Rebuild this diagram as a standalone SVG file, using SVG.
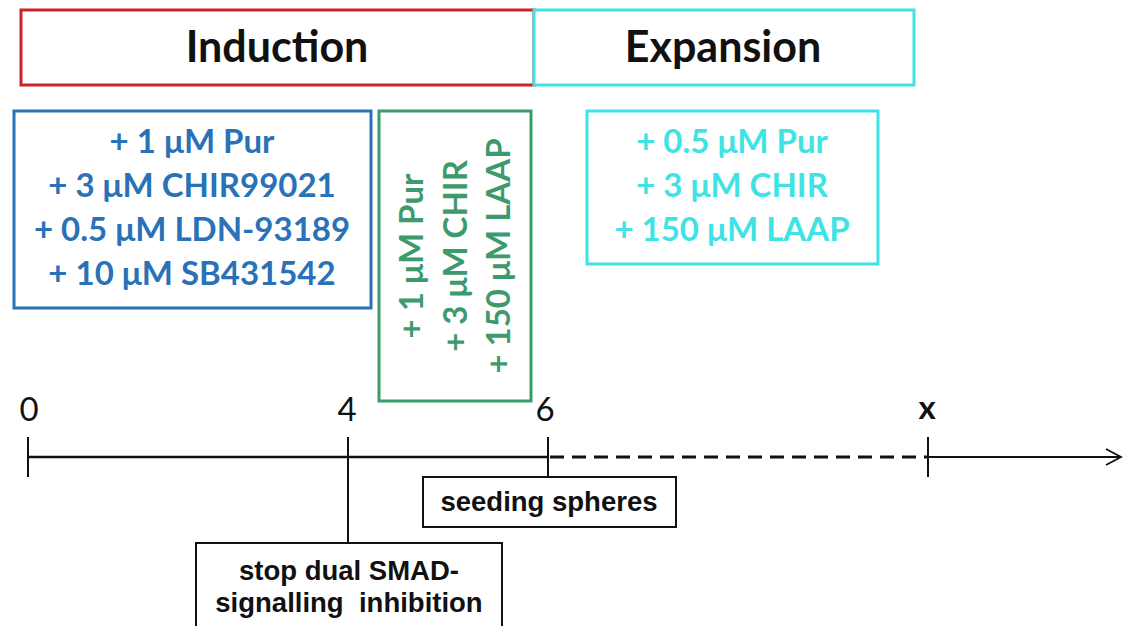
<svg xmlns="http://www.w3.org/2000/svg" width="1123" height="626" viewBox="0 0 1123 626">
  <style>
    .phase { fill: #ffffff; stroke-width: 3; }
    .title { font-family: Lato, "Open Sans", sans-serif; font-weight: bold; font-size: 43px; fill: #111111; text-anchor: middle; }
    .med { font-family: Lato, "Open Sans", sans-serif; font-weight: bold; font-size: 33px; text-anchor: middle; }
    .num { font-family: Lato, "Open Sans", sans-serif; font-size: 33px; fill: #111111; text-anchor: middle; }
    .note { font-family: "Liberation Sans", Arial, sans-serif; font-weight: bold; font-size: 27.5px; fill: #111111; text-anchor: middle; }
    .axis { stroke: #111111; stroke-width: 2.5; fill: none; }
    .dash { stroke: #111111; stroke-width: 3.2; stroke-dasharray: 14 8; fill: none; }
    .tail { stroke: #111111; stroke-width: 1.8; fill: none; }
    .tick { stroke: #111111; stroke-width: 2; fill: none; }
    .box { fill: #ffffff; stroke: #111111; stroke-width: 2; }
  </style>

  <rect width="1123" height="626" fill="#ffffff"/>

  <!-- phase headers -->
  <g id="induction">
    <rect class="phase" x="21" y="10" width="513" height="75" stroke="#c8232a"/>
    <text class="title" x="277" y="62">Induction</text>
  </g>
  <g id="expansion">
    <rect class="phase" x="534" y="10" width="380" height="75" stroke="#3fe3e6"/>
    <text class="title" x="723" y="62">Expansion</text>
  </g>

  <!-- media compositions -->
  <g id="media-induction">
    <rect x="14" y="111" width="357" height="197" fill="none" stroke="#2a72b8" stroke-width="3"/>
    <g class="med" fill="#2a72b8">
      <text x="192" y="153">+ 1 μM Pur</text>
      <text x="192" y="197">+ 3 μM CHIR99021</text>
      <text x="192" y="241">+ 0.5 μM LDN-93189</text>
      <text x="192" y="285">+ 10 μM SB431542</text>
    </g>
  </g>
  <g id="media-transition">
    <rect x="379" y="111" width="152" height="290" fill="none" stroke="#3d9a6c" stroke-width="3"/>
    <g class="med" fill="#3d9a6c">
      <text transform="translate(423 256) rotate(-90)">+ 1 μM Pur</text>
      <text transform="translate(467 256) rotate(-90)">+ 3 μM CHIR</text>
      <text transform="translate(510 256) rotate(-90)">+ 150 μM LAAP</text>
    </g>
  </g>
  <g id="media-expansion">
    <rect x="587" y="111" width="291" height="153" fill="none" stroke="#3fe3e6" stroke-width="3"/>
    <g class="med" fill="#3fe3e6">
      <text x="732" y="153">+ 0.5 μM Pur</text>
      <text x="732" y="197">+ 3 μM CHIR</text>
      <text x="732" y="241">+ 150 μM LAAP</text>
    </g>
  </g>

  <!-- time axis -->
  <g id="connectors">
    <line class="axis" x1="28" y1="457" x2="548" y2="457"/>
    <line class="dash" x1="550" y1="457" x2="928" y2="457"/>
    <line class="tail" x1="928" y1="457" x2="1121" y2="457"/>
    <polyline class="tail" points="1106,449 1121,457 1106,465"/>
    <line class="tick" x1="28" y1="437" x2="28" y2="477"/>
    <line class="tick" x1="348" y1="437" x2="348" y2="543"/>
    <line class="tick" x1="548" y1="437" x2="548" y2="477"/>
    <line class="tick" x1="928" y1="437" x2="928" y2="477"/>
  </g>

  <g id="ticks">
    <text class="num" x="29" y="421">0</text>
    <text class="num" x="347" y="421">4</text>
    <text class="num" x="545" y="421">6</text>
    <text class="num" x="927" y="419" font-weight="bold">x</text>
  </g>

  <!-- event notes -->
  <g id="seeding">
    <rect class="box" x="423" y="477" width="253" height="50"/>
    <text class="note" x="549" y="511">seeding spheres</text>
  </g>
  <g id="stop-smad">
    <rect class="box" x="196" y="543" width="306" height="95"/>
    <text class="note" x="349" y="580">stop dual SMAD-</text>
    <text class="note" x="349" y="612" xml:space="preserve">signalling  inhibition</text>
  </g>
</svg>
